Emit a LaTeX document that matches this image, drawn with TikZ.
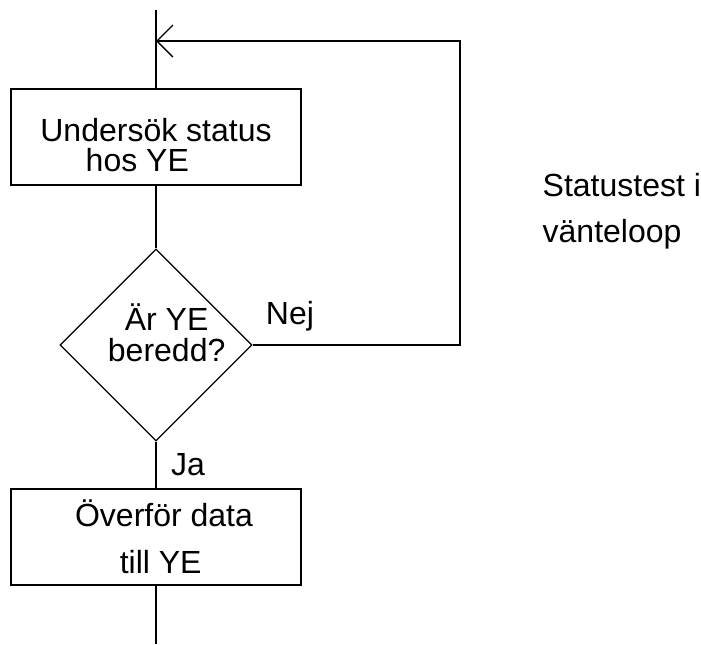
\documentclass[tikz,border=0pt]{standalone}
\usepackage{fontspec}
\setmainfont{Liberation Sans}
\usetikzlibrary{shapes.geometric,arrows.meta}

\begin{document}
\begin{tikzpicture}[x=0.75pt,y=-0.75pt,line width=1pt,
  txt/.style={font=\fontsize{24}{29}\selectfont},
  procbox/.style={draw,rectangle,minimum width=217.5pt,minimum height=72pt,align=center,inner sep=0pt},
  decision/.style={draw,diamond,shape aspect=1,minimum width=144pt,minimum height=144pt,inner sep=0pt}]

  \useasboundingbox (0,0) rectangle (701,644);

  \node[procbox,font=\fontsize{24}{22}\selectfont] (undersok) at (156,137) {\rule{0pt}{29.5pt}Undersök status\\hos YE\hspace*{28pt}};
  \node[decision,label={[align=center,xshift=8pt,yshift=9pt,font=\fontsize{24}{23}\selectfont]center:Är YE\\beredd?}] (redo) at (156,345) {};
  \node[procbox,font=\fontsize{24}{35}\selectfont] (overfor) at (156,537) {\hspace*{12pt}Överför data\\\hspace*{7pt}till YE};

  \coordinate (topp) at (156,10);
  \coordinate (botten) at (156,644);
  \coordinate (pil) at (156,41);
  \coordinate (retur) at (460,41);
  \coordinate (hoger) at (460,345);

  \draw (topp) -- (undersok);
  \draw (undersok) -- (redo);
  \draw (redo) -- (overfor);
  \draw (overfor) -- (botten);

  % the waiting loop
  \draw[-{Straight Barb[length=12pt,width=24pt]}] (redo.east) -- (hoger) -- (retur) -- (pil);

  \node[txt] (nej) at (290,316) {Nej};
  \node[txt] (ja) at (188,465) {Ja};
  \node[anchor=base west,align=left,inner sep=0pt,font=\fontsize{24}{34}\selectfont] (kommentar) at (542,242) {Statustest i\\vänteloop};

\end{tikzpicture}
\end{document}
